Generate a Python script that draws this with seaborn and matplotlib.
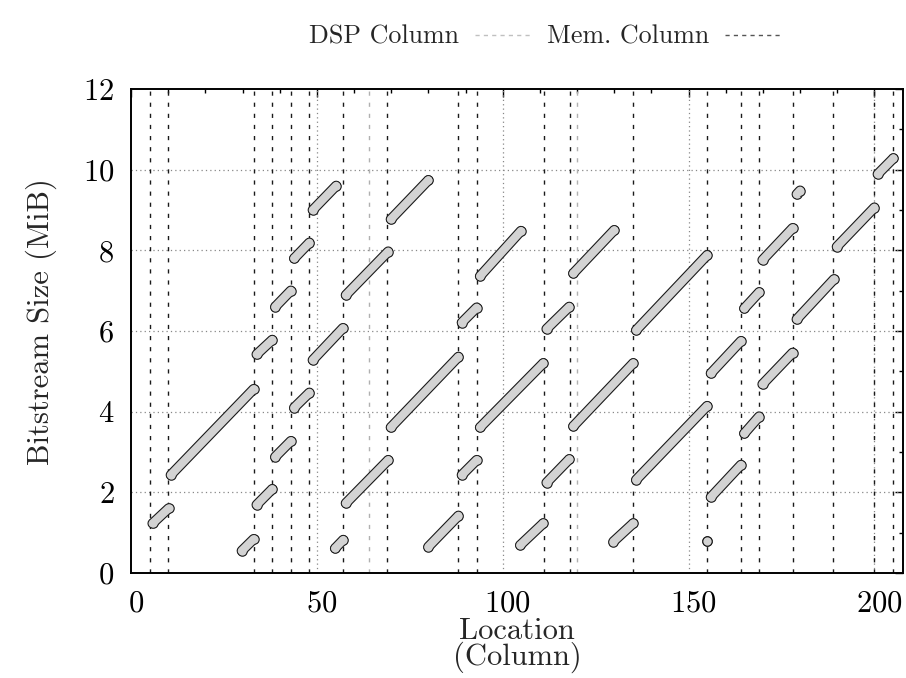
import matplotlib
matplotlib.use("Agg")
import matplotlib.pyplot as plt
from matplotlib.lines import Line2D
from matplotlib.transforms import ScaledTranslation
import numpy as np
import pandas as pd
import seaborn as sns

# ---- data ----
# each segment: start column, end column, start size, end size (MiB)
seg_x0 = [5.8, 10.7, 29.8, 33.8, 33.8, 38.8, 38.8, 43.9, 43.9, 48.9, 48.9, 54.9,
          57.8, 57.8, 69.9, 69.9, 80.0, 89.0, 89.0, 93.9, 93.9, 104.7, 111.8, 111.8,
          119.0, 119.0, 129.8, 135.9, 135.9, 155.0, 156.0, 156.0, 165.0, 165.0,
          169.9, 169.9, 179.1, 179.1, 189.9, 200.9]
seg_x1 = [10.1, 33.0, 33.0, 38.0, 38.0, 43.0, 43.0, 48.0, 48.0, 57.0, 55.2, 57.1,
          69.2, 69.2, 88.1, 80.0, 88.1, 93.0, 93.0, 104.9, 110.9, 110.9, 117.9, 117.9,
          130.0, 135.1, 135.1, 155.0, 155.0, 155.0, 164.1, 164.1, 169.0, 169.0,
          178.0, 178.0, 180.0, 189.1, 200.0, 205.1]
seg_y0 = [1.23, 2.43, 0.55, 1.69, 5.42, 2.88, 6.60, 4.10, 7.80, 5.28, 9.00, 0.61,
          1.73, 6.89, 3.61, 8.77, 0.65, 2.43, 6.21, 7.36, 3.61, 0.69, 2.24, 6.05,
          7.43, 3.64, 0.78, 2.31, 6.02, 0.79, 1.88, 4.95, 3.46, 6.56,
          4.68, 7.76, 9.39, 6.29, 8.09, 9.89]
seg_y1 = [1.60, 4.56, 0.84, 2.08, 5.78, 3.27, 7.00, 4.47, 8.19, 6.07, 9.60, 0.82,
          2.80, 7.97, 5.36, 9.74, 1.42, 2.80, 6.58, 8.48, 5.20, 1.23, 2.82, 6.60,
          8.50, 5.20, 1.23, 4.14, 7.88, 0.79, 2.68, 5.75, 3.88, 6.96,
          5.46, 8.55, 9.48, 7.28, 9.06, 10.28]

mem_cols = [5, 10, 33, 38, 43, 48, 57, 69, 88, 93, 111, 118, 135, 155, 164,
            169, 178, 189, 200, 205]
dsp_cols = [64, 120]

legend_labels = ["DSP Column", "Mem. Column"]
x_ticks = [0, 50, 100, 150, 200]
y_ticks = [0, 2, 4, 6, 8, 10, 12]

# ---- build tables ----
rows = []
for i in range(len(seg_x0)):
    rows.append({"seg": i, "x": seg_x0[i], "y": seg_y0[i]})
    rows.append({"seg": i, "x": seg_x1[i], "y": seg_y1[i]})
df = pd.DataFrame(rows)

sns.set_theme(style="white")
plt.rcParams["font.family"] = ["cmr10", "DejaVu Serif"]
plt.rcParams["axes.formatter.use_mathtext"] = True
plt.rcParams["mathtext.fontset"] = "cm"

FS = 22
fig = plt.figure(figsize=(9.06, 6.78), dpi=100)
ax = fig.add_axes([131 / 906, 105 / 678, 772 / 906, 484 / 678])

ax.set_xlim(0, 207.7)
ax.set_ylim(0, 12)

# grid (dotted) at major ticks
for xv in x_ticks[1:]:
    ax.axvline(xv, color="#888888", lw=0.9, ls=(0, (1, 2.5)), zorder=1)
for yv in y_ticks[1:-1]:
    ax.axhline(yv, color="#888888", lw=0.9, ls=(0, (1, 2.5)), zorder=1)

ax.vlines(mem_cols, 0, 12, colors="#1a1a1a", lw=1.0, linestyles=[(0, (3, 5))], zorder=2)
ax.vlines(dsp_cols, 0, 12, colors="#b0b0b0", lw=1.0, linestyles=[(0, (3, 5))], zorder=2)

# sausages: outline line, endpoint circles, fill line
sns.lineplot(data=df, x="x", y="y", units="seg", estimator=None, sort=False,
             color="#1a1a1a", linewidth=7.4, solid_capstyle="round", ax=ax,
             legend=False, zorder=3)
sns.scatterplot(data=df, x="x", y="y", s=46, color="#d3d3d3", edgecolor="#1a1a1a",
                linewidth=0.8, ax=ax, legend=False, zorder=4)
sns.lineplot(data=df, x="x", y="y", units="seg", estimator=None, sort=False,
             color="#d3d3d3", linewidth=5.8, solid_capstyle="round", ax=ax,
             legend=False, zorder=5)

ax.set_xticks(x_ticks)
ax.set_yticks(y_ticks)
ax.set_xticks(np.arange(0, 208, 10), minor=True)
ax.set_yticks(np.arange(0, 12.1, 1), minor=True)
ax.tick_params(which="both", direction="in", top=True, right=True,
               colors="black", labelsize=FS)
ax.tick_params(which="major", length=6, width=1.0)
ax.tick_params(which="minor", length=3, width=1.0)
ax.tick_params(axis="x", which="major", pad=12)
ax.tick_params(axis="y", which="major", pad=12)
for sp in ax.spines.values():
    sp.set_color("black")
    sp.set_linewidth(1.4)
    sp.set_zorder(10)

shift = ScaledTranslation(5 / 100, 0, fig.dpi_scale_trans)
for lab in ax.get_xticklabels():
    lab.set_transform(lab.get_transform() + shift)

ax.set_xlabel("Location\n(Column)", fontsize=FS, linespacing=0.88, labelpad=0)
ax.set_ylabel("Bitstream Size (MiB)", fontsize=FS)
ax.yaxis.set_label_coords(-0.096, 0.52)

handles = [Line2D([0], [0], color="#c0c0c0", lw=1.0, ls=(0, (3, 3))),
           Line2D([0], [0], color="#555555", lw=1.0, ls=(0, (3, 3)))]
fig.legend(handles, legend_labels, loc="center right", bbox_to_anchor=(782 / 906, 1 - 37 / 678),
           ncol=2, frameon=False, fontsize=18.7, markerfirst=False, handlelength=2.2,
           handletextpad=0.62, columnspacing=0.55, borderpad=0, borderaxespad=0)

fig.savefig("out.png", dpi=100)
